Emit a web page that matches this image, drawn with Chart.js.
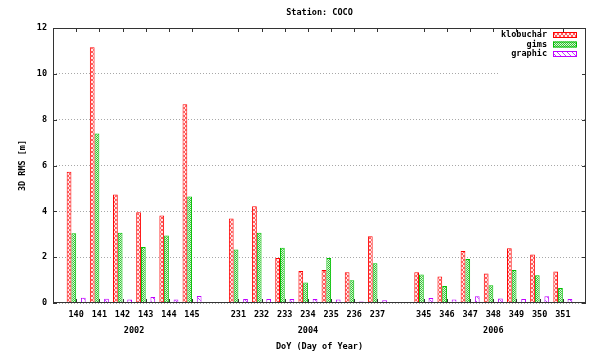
<!DOCTYPE html>
<html>
<head>
<meta charset="utf-8">
<script src="https://cdn.jsdelivr.net/npm/chart.js@4"></script>
<style>
  html, body { margin: 0; padding: 0; background: #fff; }
  #wrap { width: 589px; height: 354px; }
</style>
</head>
<body>
<div id="wrap"><canvas id="rmsChart" width="589" height="354"></canvas></div>
<script>
// Data
const years = ["2002", "2004", "2006"];
const days = [
  ["140", "141", "142", "143", "144", "145"],
  ["231", "232", "233", "234", "235", "236", "237"],
  ["345", "346", "347", "348", "349", "350", "351"],
];
const klobuchar = [5.73, 11.16, 4.74, 3.96, 3.82, 8.67, 3.69, 4.22, 1.96, 1.40, 1.44, 1.34, 2.91, 1.34, 1.16, 2.27, 1.29, 2.39, 2.12, 1.37];
const gims = [3.04, 7.40, 3.07, 2.44, 2.95, 4.65, 2.34, 3.07, 2.41, 0.90, 1.96, 0.99, 1.73, 1.24, 0.74, 1.92, 0.77, 1.44, 1.21, 0.65];
const graphic = [0.23, 0.19, 0.15, 0.26, 0.15, 0.31, 0.17, 0.17, 0.17, 0.17, 0.15, 0.07, 0.12, 0.22, 0.15, 0.29, 0.20, 0.17, 0.29, 0.17];
const yTicks = [0, 2, 4, 6, 8, 10, 12];

const FONT = "'DejaVu Sans Mono', 'Liberation Mono', monospace";

// Lay the groups out with one empty slot before, between and after them
const labels = [""];
const slotOf = []; // data index -> slot index
const groupSlots = [];
days.forEach((grp) => {
  const first = labels.length;
  grp.forEach((d) => { slotOf.push(labels.length); labels.push(d); });
  groupSlots.push([first, labels.length - 1]);
  labels.push("");
});

function spread(values) {
  const out = labels.map(() => null);
  values.forEach((v, i) => { out[slotOf[i]] = v; });
  return out;
}

function makePattern(w, h, draw) {
  const c = document.createElement("canvas");
  c.width = w; c.height = h;
  const g = c.getContext("2d");
  draw(g);
  return g.createPattern(c, "repeat");
}

const redFill = makePattern(4, 4, (g) => {
  g.fillStyle = "#ffe8e8"; g.fillRect(0, 0, 4, 4);
  g.fillStyle = "#ff5a5a";
  for (let i = 0; i < 4; i++) { g.fillRect(i, i, 1, 1); g.fillRect(3 - i, i, 1, 1); }
});
const greenFill = makePattern(2, 2, (g) => {
  g.fillStyle = "#d8f8d8"; g.fillRect(0, 0, 2, 2);
  g.fillStyle = "#38c038"; g.fillRect(0, 0, 1, 1); g.fillRect(1, 1, 1, 1);
});
const purpleFill = makePattern(5, 5, (g) => {
  g.fillStyle = "#ffffff"; g.fillRect(0, 0, 5, 5);
  g.fillStyle = "#c040ff";
  for (let i = 0; i < 5; i++) g.fillRect(i, i, 1, 1);
});

const series = [
  { label: "klobuchar", data: klobuchar, fill: redFill, border: "#ff0000" },
  { label: "gims", data: gims, fill: greenFill, border: "#00c000" },
  { label: "graphic", data: graphic, fill: purpleFill, border: "#c000ff" },
];

const datasets = series.map((s) => ({
  label: s.label,
  data: spread(s.data),
  backgroundColor: s.fill,
  borderColor: s.border,
  borderWidth: 1,
}));
// empty spacer so "graphic" sits one bar width to the right, as in gnuplot
datasets.splice(2, 0, { label: "", data: labels.map(() => null) });

// title, legend, frame, inward ticks and year labels
const gnuplotDecor = {
  id: "gnuplotDecor",
  afterDatasetsDraw(chart) {
    const ctx = chart.ctx;
    const area = chart.chartArea;
    ctx.save();
    ctx.fillStyle = "#fff";
    ctx.fillRect(500, area.top + 1, area.right - 501, 48);
    ctx.font = "bold 8.5px " + FONT;
    ctx.textAlign = "right";
    ctx.textBaseline = "middle";
    series.forEach((s, i) => {
      const y = 35 + i * 9.5;
      ctx.fillStyle = "#000";
      ctx.fillText(s.label, 547, y);
      ctx.fillStyle = s.fill;
      ctx.fillRect(553, y - 3, 24, 6);
      ctx.strokeStyle = s.border;
      ctx.lineWidth = 1;
      ctx.strokeRect(553.5, y - 2.5, 23, 5);
    });
    ctx.restore();
  },
  afterDraw(chart) {
    const ctx = chart.ctx;
    const { left, right, top, bottom } = chart.chartArea;
    const x = chart.scales.x;
    const y = chart.scales.y;
    ctx.save();
    ctx.strokeStyle = "#333";
    ctx.lineWidth = 1;
    ctx.strokeRect(left + 0.5, top + 0.5, right - left - 1, bottom - top - 1);
    ctx.beginPath();
    labels.forEach((l, i) => {
      if (!l) return;
      const px = Math.round(x.getPixelForValue(i)) + 0.5;
      ctx.moveTo(px, bottom); ctx.lineTo(px, bottom - 4);
      ctx.moveTo(px, top); ctx.lineTo(px, top + 4);
    });
    yTicks.forEach((v) => {
      const py = Math.round(y.getPixelForValue(v)) + 0.5;
      ctx.moveTo(left, py); ctx.lineTo(left + 4, py);
      ctx.moveTo(right, py); ctx.lineTo(right - 4, py);
    });
    ctx.stroke();

    ctx.fillStyle = "#000";
    ctx.font = "bold 8.5px " + FONT;
    ctx.textAlign = "center";
    ctx.textBaseline = "middle";
    ctx.fillText("Station: COCO", (left + right) / 2, 13);
    groupSlots.forEach(([a, b], g) => {
      const cx = (x.getPixelForValue(a) + x.getPixelForValue(b)) / 2;
      ctx.fillText(years[g], cx, 331);
    });
    ctx.restore();
  },
};

const ctx = document.getElementById("rmsChart").getContext("2d");
new Chart(ctx, {
  type: "bar",
  data: { labels: labels, datasets: datasets },
  options: {
    responsive: false,
    animation: false,
    layout: { padding: { top: 28, right: 3, left: 0, bottom: 0 } },
    categoryPercentage: 0.82,
    barPercentage: 1,
    plugins: {
      legend: { display: false },
      tooltip: { enabled: false },
      title: { display: false },
    },
    scales: {
      x: {
        offset: false,
        grid: { display: false, drawTicks: false },
        border: { display: false },
        ticks: {
          autoSkip: false,
          maxRotation: 0,
          padding: 7,
          color: "#000",
          font: { family: FONT, size: 8.5, weight: "bold" },
        },
        title: {
          display: true,
          text: "DoY (Day of Year)",
          color: "#000",
          font: { family: FONT, size: 8.5, weight: "bold" },
          padding: { top: 0, bottom: 2 },
        },
        afterFit(scale) {
          scale.height = 51;
          scale.paddingLeft = 0;
          scale.paddingRight = 0;
        },
      },
      y: {
        min: 0,
        max: 12,
        grid: { color: "#a8a8a8", drawTicks: false },
        border: { display: false, dash: [1, 2] },
        ticks: {
          stepSize: 2,
          padding: 6,
          color: "#000",
          font: { family: FONT, size: 8.5, weight: "bold" },
        },
        title: {
          display: true,
          text: "3D RMS [m]",
          color: "#000",
          font: { family: FONT, size: 8.5, weight: "bold" },
          padding: { top: 18, bottom: 0 },
        },
        afterFit(scale) {
          scale.width = 53;
          scale.paddingTop = 0;
          scale.paddingBottom = 0;
        },
      },
    },
  },
  plugins: [gnuplotDecor],
});
</script>
</body>
</html>
